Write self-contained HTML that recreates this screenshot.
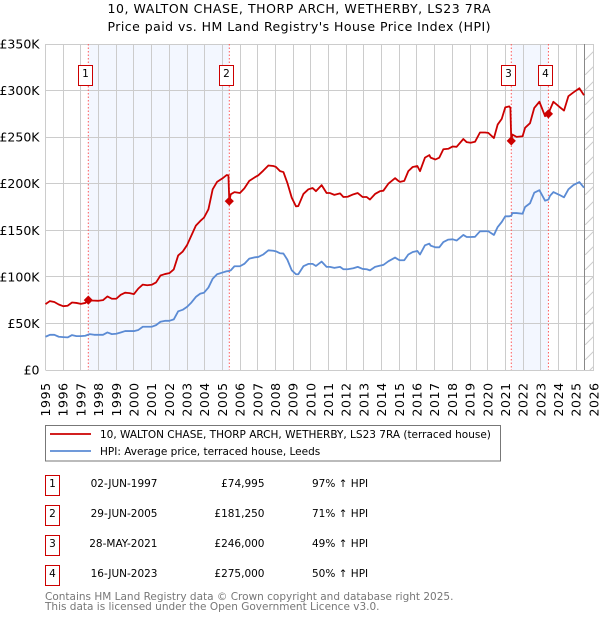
<!DOCTYPE html>
<html lang="en">
<head>
<meta charset="utf-8">
<title>10, Walton Chase price chart</title>
<style>
html,body{margin:0;padding:0;background:#fff;width:600px;height:620px;overflow:hidden}
svg{display:block;font-family:"DejaVu Sans","Liberation Sans",sans-serif}
</style>
</head>
<body>
<svg id="chart" xmlns="http://www.w3.org/2000/svg" width="600" height="620" viewBox="0 0 600 620">
<defs>
<pattern id="hatch" width="15" height="15" patternUnits="userSpaceOnUse">
<line x1="0" y1="15" x2="15" y2="0" stroke="#ccc" stroke-width="1"></line>
</pattern>
</defs>
<text x="107.5" y="13" font-size="12.5" textLength="383" lengthAdjust="spacing" fill="#000">10, WALTON CHASE, THORP ARCH, WETHERBY, LS23 7RA</text>
<text x="107.5" y="31" font-size="12.5" textLength="383" lengthAdjust="spacing" fill="#000">Price paid vs. HM Land Registry's House Price Index (HPI)</text>
<g id="plot"></g>
<g>
<rect x="45.5" y="425.5" width="455" height="35.5" fill="#fff" stroke="#777" stroke-width="1"></rect>
<line x1="50" y1="434" x2="91" y2="434" stroke="#cc0000" stroke-width="1.8"></line>
<text x="100" y="438" font-size="10.5">10, WALTON CHASE, THORP ARCH, WETHERBY, LS23 7RA (terraced house)</text>
<line x1="50" y1="451" x2="91" y2="451" stroke="#5b8bd4" stroke-width="1.8"></line>
<text x="100" y="455" font-size="10.5">HPI: Average price, terraced house, Leeds</text>
</g>
<g font-size="10.5">
<g>
<rect x="45.5" y="475.5" width="14" height="20" fill="#fff" stroke="#cc0000"></rect>
<text x="52.5" y="487" text-anchor="middle">1</text>
<text x="157.5" y="487" text-anchor="end">02-JUN-1997</text>
<text x="264.5" y="487" text-anchor="end">£74,995</text>
<text x="312" y="487">97% ↑ HPI</text>
</g>
<g>
<rect x="45.5" y="505.5" width="14" height="20" fill="#fff" stroke="#cc0000"></rect>
<text x="52.5" y="517" text-anchor="middle">2</text>
<text x="157.5" y="517" text-anchor="end">29-JUN-2005</text>
<text x="264.5" y="517" text-anchor="end">£181,250</text>
<text x="312" y="517">71% ↑ HPI</text>
</g>
<g>
<rect x="45.5" y="535.5" width="14" height="20" fill="#fff" stroke="#cc0000"></rect>
<text x="52.5" y="547" text-anchor="middle">3</text>
<text x="157.5" y="547" text-anchor="end">28-MAY-2021</text>
<text x="264.5" y="547" text-anchor="end">£246,000</text>
<text x="312" y="547">49% ↑ HPI</text>
</g>
<g>
<rect x="45.5" y="565.5" width="14" height="20" fill="#fff" stroke="#cc0000"></rect>
<text x="52.5" y="577" text-anchor="middle">4</text>
<text x="157.5" y="577" text-anchor="end">16-JUN-2023</text>
<text x="264.5" y="577" text-anchor="end">£275,000</text>
<text x="312" y="577">50% ↑ HPI</text>
</g>
</g>
<text x="45" y="600" font-size="10.5" fill="#777">Contains HM Land Registry data © Crown copyright and database right 2025.</text>
<text x="45" y="610" font-size="10.5" fill="#777">This data is licensed under the Open Government Licence v3.0.</text>
</svg>
<script>
var yearTicks = [1995,1996,1997,1998,1999,2000,2001,2002,2003,2004,2005,2006,2007,2008,2009,2010,2011,2012,2013,2014,2015,2016,2017,2018,2019,2020,2021,2022,2023,2024,2025,2026];
var priceTicks = [0,50,100,150,200,250,300,350];
var priceTickLabels = ["£0","£50K","£100K","£150K","£200K","£250K","£300K","£350K"];
var dates = [
1995,1995.25,1995.5,1995.75,1996,1996.25,1996.5,1996.75,1997,1997.25,1997.42,1997.5,1997.75,1998,1998.25,1998.5,1998.75,1999,1999.25,1999.5,1999.75,2000,2000.25,2000.5,2000.75,2001,2001.25,2001.5,2001.75,2002,2002.25,2002.5,2002.75,2003,2003.25,2003.5,2003.75,
2003.96,2004.21,2004.45,2004.70,2005.00,2005.24,2005.34,2005.39,2005.47,2005.68,2005.99,2006.24,2006.52,2006.84,2007.03,2007.31,2007.60,2007.88,2008.03,2008.26,2008.45,2008.67,2008.92,2009.16,2009.29,2009.58,2009.86,2010.10,2010.29,2010.61,2010.89,2011.08,2011.33,2011.65,2011.84,2012.08,2012.40,2012.65,2012.93,2013.16,2013.34,2013.63,2013.91,2014.10,2014.38,2014.76,2014.95,
2015.04,2015.28,2015.51,2015.76,2016.02,2016.17,2016.45,2016.70,2016.77,2017.04,2017.26,2017.49,2017.77,2018.02,2018.24,2018.62,2018.81,2019.03,2019.28,2019.56,2019.85,2020.03,2020.35,2020.56,2020.79,2020.99,2021.22,2021.28,2021.33,2021.39,2021.63,2021.97,2022.11,2022.39,2022.63,2022.92,2023.24,2023.43,2023.52,2023.71,2024.05,2024.31,2024.56,2024.84,2025.18,2025.44
];
var paidValues = [
70.7,74,73,70.3,68.5,69,72.5,72,71,72,75,74.6,74.5,74.3,75,79,76.5,76.5,80.7,83,82.5,81.5,87.5,91.7,91,91.5,94,101.5,103,104,108,123,127,134,144.5,155,160,
163.6,172.5,194,202,205.7,209.3,209,181.25,188.6,191,190,195,203,207,209,214,219.6,219,218,213.5,212.5,201,185,175.7,176,189,194,195.4,192,198.5,190,190,188,189.6,185.7,186,188.6,190,185.7,185.7,183,189,192,192.5,200,206,203,
202,203,213.5,218,219,213.5,228,230.7,228,226,228,237,237.5,240,239.6,248,244.6,244,245,255,255,254.6,249,263.5,269.6,282,283,281.4,246,252.8,250.3,251,260,265,281.4,288,272.5,275,279.6,288,282.5,278.5,294,298,302.5,295
];
var hpiValues = [
35.7,37.8,37.8,35.7,35.3,35,37.5,36.4,36.4,36.8,38,38.5,37.8,37.8,37.8,40.3,38.5,38.9,40.3,41.8,41.8,41.8,43,46.4,46.4,46.4,48.2,51.8,52.8,52.8,54.3,63,64.6,67.8,72.5,78.5,82,
83,88.5,98,102.8,104.6,106,106.2,106.5,107,111.4,111.4,114,119.6,121,121.4,124,128.5,128,127.4,125.3,125,118.5,107,102.8,102.8,111.4,113.9,113.9,111.7,116.4,110.7,110.7,109.6,110.7,108.2,108.2,109.2,110.7,108.5,108.2,107,110.7,112,112.8,116.7,120.7,118.5,
117.8,117.8,124,126.7,127.8,124,133.9,135.7,133.5,131.7,131.7,137.4,140,140.3,139,145,142.8,142.8,143,148.9,149,149,145,153.5,158.9,165,165,165.4,165.5,168.5,168.5,167.8,175,179,190.4,193,181.8,183,187,191,188,185.4,194,198.6,201.8,195.7
];
var saleDates = [1997.42,2005.39,2021.33,2023.43];
var salePrices = [74.995,181.25,246,275];
var saleLabels = ["1","2","3","4"];
var dataEndYear = 2025.48;

var SVGNS = "http://www.w3.org/2000/svg";
var plot = document.getElementById("plot");
var LEFT = 45.5, YEAR_W = 17.69, BASE = 370, PX_PER_K = 326 / 350, TOP = 44, RIGHT = 594;
function xScale(year) { return LEFT + (year - 1995) * YEAR_W; }
function yScale(k) { return BASE - k * PX_PER_K; }
function crisp(v) { return Math.floor(v) + 0.5; }
function make(tag, attrs, parent) {
  var el = document.createElementNS(SVGNS, tag);
  for (var k in attrs) { el.setAttribute(k, attrs[k]); }
  (parent || plot).appendChild(el);
  return el;
}
function pathFor(values) {
  return values.map(function (v, i) {
    return (i ? "L" : "M") + xScale(dates[i]).toFixed(2) + " " + yScale(v).toFixed(2);
  }).join("");
}

var shadeA = make("rect", {x: xScale(saleDates[0]), y: TOP, width: xScale(saleDates[1]) - xScale(saleDates[0]), height: BASE - TOP, fill: "#f3f7ff"});


var shadeB = make("rect", {x: xScale(saleDates[2]), y: TOP, width: xScale(saleDates[3]) - xScale(saleDates[2]), height: BASE - TOP, fill: "#f3f7ff"});


var hatch = make("rect", {x: xScale(dataEndYear), y: TOP, width: RIGHT - xScale(dataEndYear), height: BASE - TOP, fill: "url(#hatch)"});



yearTicks.forEach(function (yr) {
  var gx = crisp(xScale(yr));
  var line = make("line", {x1: gx, x2: gx, y1: TOP, y2: BASE, stroke: "#ccc", "stroke-width": 1});
  
  
  var lx = xScale(yr) + 4.5;
  var label = make("text", {x: lx, y: 416.5, "font-size": 12.5, "letter-spacing": 0.6, fill: "#000", transform: "rotate(-90 " + lx + " 416.5)"});
  
  
  label.textContent = yr;
});
priceTicks.forEach(function (p, i) {
  var gy = crisp(yScale(p));
  var line = make("line", {x1: LEFT, x2: RIGHT, y1: gy, y2: gy, stroke: "#ccc", "stroke-width": 1});
  
  
  var label = make("text", {x: 39.5, y: yScale(p) + 4.5, "text-anchor": "end", "font-size": 12.5, fill: "#000"});
  
  
  label.textContent = priceTickLabels[i];
});

var endLine = make("line", {x1: crisp(xScale(dataEndYear)), x2: crisp(xScale(dataEndYear)), y1: TOP, y2: BASE, stroke: "#888", "stroke-width": 1});



saleDates.forEach(function (d) {
  var line = make("line", {x1: xScale(d), x2: xScale(d), y1: TOP, y2: BASE, stroke: "#ff5a5a", "stroke-width": 1, "stroke-dasharray": "1.5 2"});
  
  
});

var hpiLine = make("path", {d: pathFor(hpiValues), fill: "none", stroke: "#5b8bd4", "stroke-width": 1.8, "stroke-linejoin": "round"});


var paidLine = make("path", {d: pathFor(paidValues), fill: "none", stroke: "#cc0000", "stroke-width": 1.8, "stroke-linejoin": "round"});



saleDates.forEach(function (d, i) {
  var cx = xScale(d), cy = yScale(salePrices[i]), r = 4.6;
  var marker = make("polygon", {points: [cx, cy - r, cx + r, cy, cx, cy + r, cx - r, cy].join(" "), fill: "#cc0000"});
  
  
  var badge = make("rect", {x: Math.floor(cx) - 9.5, y: 65.5, width: 14, height: 20, fill: "#fff", stroke: "#cc0000", "stroke-width": 1});
  
  
  var num = make("text", {x: Math.floor(cx) - 2.5, y: 77, "text-anchor": "middle", "font-size": 10.5, fill: "#000"});
  
  
  num.textContent = saleLabels[i];
});
</script>
</body>
</html>
